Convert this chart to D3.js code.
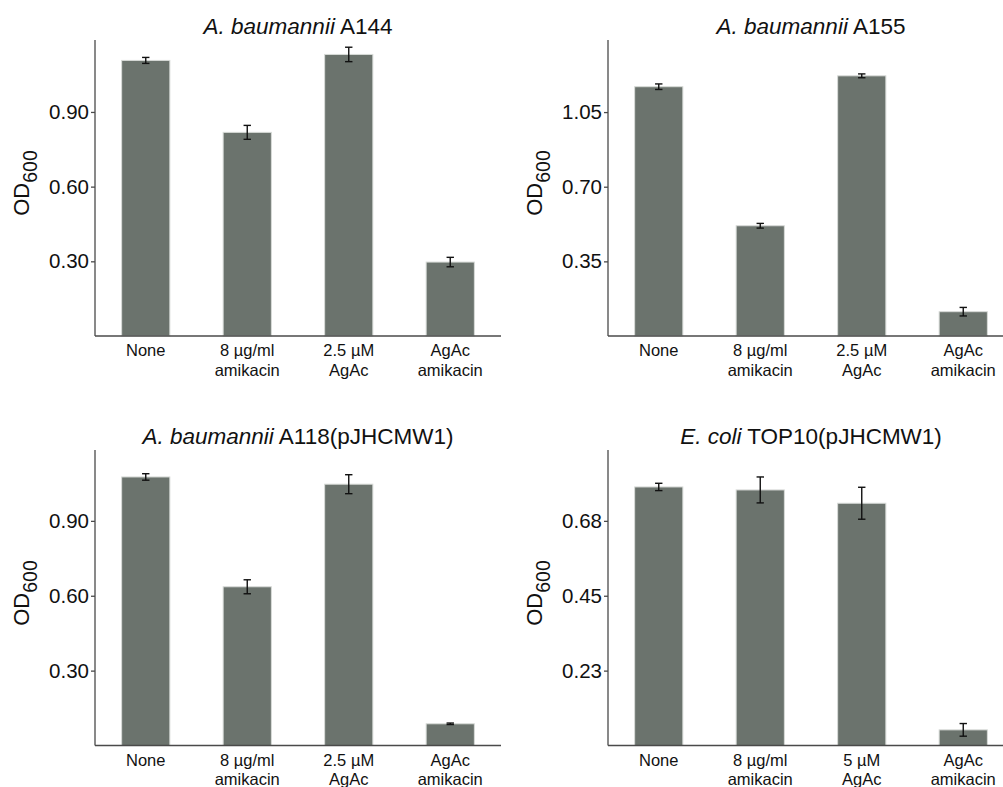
<!DOCTYPE html>
<html>
<head>
<meta charset="utf-8">
<script src="https://cdn.jsdelivr.net/npm/d3@7"></script>
<style>
  body { margin: 0; background: #fff; }
  svg { font-family: "Liberation Sans", Arial, sans-serif; }
</style>
</head>
<body>
<div id="chart"></div>
<script>
// conditions on the x axis (two lines each)
const conditionsAg25 = [["None"], ["8 µg/ml", "amikacin"], ["2.5 µM", "AgAc"], ["AgAc", "amikacin"]];
const conditionsAg5 = [["None"], ["8 µg/ml", "amikacin"], ["5 µM", "AgAc"], ["AgAc", "amikacin"]];

// OD600 means and error (half-length) per strain
const a144Values = [1.107, 0.818, 1.131, 0.297];
const a144Errors = [0.012, 0.028, 0.029, 0.019];
const a155Values = [1.169, 0.517, 1.220, 0.114];
const a155Errors = [0.013, 0.011, 0.009, 0.020];
const a118Values = [1.076, 0.636, 1.047, 0.087];
const a118Errors = [0.013, 0.028, 0.038, 0.003];
const top10Values = [0.777, 0.768, 0.728, 0.047];
const top10Errors = [0.011, 0.039, 0.048, 0.019];

// y tick values and their printed labels
const ticksA144 = [0.30, 0.60, 0.90];
const ticksA155 = [0.35, 0.70, 1.05];
const ticksA118 = [0.30, 0.60, 0.90];
const ticksTop10 = [0.225, 0.45, 0.675];
const tickLabelsTop10 = ["0.23", "0.45", "0.68"];

const panels = [
  { italic: "A. baumannii", rest: " A144", labels: conditionsAg25, values: a144Values, errors: a144Errors,
    ticks: ticksA144, yMax: 1.189, left: 95, top: 40, bottom: 336 },
  { italic: "A. baumannii", rest: " A155", labels: conditionsAg25, values: a155Values, errors: a155Errors,
    ticks: ticksA155, yMax: 1.388, left: 608, top: 40, bottom: 336 },
  { italic: "A. baumannii", rest: " A118(pJHCMW1)", labels: conditionsAg25, values: a118Values, errors: a118Errors,
    ticks: ticksA118, yMax: 1.184, left: 95, top: 450, bottom: 745.5 },
  { italic: "E. coli", rest: " TOP10(pJHCMW1)", labels: conditionsAg5, values: top10Values, errors: top10Errors,
    ticks: ticksTop10, tickLabels: tickLabelsTop10, yMax: 0.888, left: 608, top: 450, bottom: 745.5 },
];

const W = 1003, H = 787;
const plotWidth = 406;
const barColor = "#6b736d";
const axisColor = "#4a4a4a";

const svg = d3.select("#chart").append("svg")
  .attr("width", W)
  .attr("height", H);

panels.forEach((p) => {
  const g = svg.append("g");
  const idx = p.values.map((d, i) => i);

  const x = d3.scaleBand()
    .domain(idx)
    .range([p.left, p.left + plotWidth])
    .paddingInner(0.525)
    .paddingOuter(0.2625);

  const y = d3.scaleLinear()
    .domain([0, p.yMax])
    .range([p.bottom, p.top]);

  // bars
  g.selectAll("rect.bar")
    .data(p.values)
    .enter()
    .append("rect")
    .attr("class", "bar")
    .attr("x", (d, i) => x(i))
    .attr("y", (d) => y(d))
    .attr("width", x.bandwidth())
    .attr("height", (d) => y(0) - y(d))
    .style("fill", barColor)
    .style("stroke", "#d8dbd8")
    .style("stroke-width", 1);

  // error bars
  const eb = g.selectAll("g.err")
    .data(p.values.map((v, i) => ({ v: v, e: p.errors[i], i: i })))
    .enter()
    .append("g")
    .attr("class", "err")
    .style("stroke", "#111")
    .style("stroke-width", 1.4);

  const cx = (d) => x(d.i) + x.bandwidth() / 2;
  eb.append("line")
    .attr("x1", cx).attr("x2", cx)
    .attr("y1", (d) => y(d.v + d.e)).attr("y2", (d) => y(d.v - d.e));
  eb.append("line")
    .attr("x1", (d) => cx(d) - 3.7).attr("x2", (d) => cx(d) + 3.7)
    .attr("y1", (d) => y(d.v + d.e)).attr("y2", (d) => y(d.v + d.e));
  eb.append("line")
    .attr("x1", (d) => cx(d) - 3.7).attr("x2", (d) => cx(d) + 3.7)
    .attr("y1", (d) => y(d.v - d.e)).attr("y2", (d) => y(d.v - d.e));

  // y axis
  const fmt = d3.format(".2f");
  const yAxis = g.append("g")
    .attr("transform", `translate(${p.left},0)`)
    .call(d3.axisLeft(y)
      .tickValues(p.ticks)
      .tickSize(4)
      .tickPadding(2)
      .tickSizeOuter(0)
      .tickFormat((d, i) => p.tickLabels ? p.tickLabels[i] : fmt(d)));
  yAxis.select(".domain").attr("d", `M0,${p.bottom}V${p.top}`);
  yAxis.selectAll("line, .domain").style("stroke", axisColor).style("stroke-width", 1.3);
  yAxis.selectAll("text")
    .style("font-size", "20.5px")
    .style("fill", "#111");

  // x axis line
  g.append("line")
    .attr("x1", p.left).attr("x2", p.left + plotWidth)
    .attr("y1", y(0)).attr("y2", y(0))
    .style("stroke", axisColor)
    .style("stroke-width", 1.3);

  // x labels
  const xl = g.selectAll("text.xlab")
    .data(p.labels)
    .enter()
    .append("text")
    .attr("class", "xlab")
    .attr("x", (d, i) => x(i) + x.bandwidth() / 2)
    .attr("y", y(0) + 20)
    .style("text-anchor", "middle")
    .style("font-size", "16.5px")
    .style("fill", "#111");
  xl.selectAll("tspan")
    .data((d) => d)
    .enter()
    .append("tspan")
    .attr("x", function () { return d3.select(this.parentNode).attr("x"); })
    .attr("dy", (d, i) => (i === 0 ? 0 : 19.5))
    .text((d) => d);

  // y label OD600
  const yl = g.append("text")
    .attr("transform", `translate(${p.left - 66},${p.top + 143}) rotate(-90)`)
    .style("text-anchor", "middle")
    .style("font-size", "22px")
    .style("fill", "#111");
  yl.append("tspan").text("OD");
  yl.append("tspan").attr("dy", 8).style("font-size", "19.5px").text("600");

  // title
  const t = g.append("text")
    .attr("x", p.left + plotWidth / 2)
    .attr("y", p.top - 6)
    .style("text-anchor", "middle")
    .style("font-size", "22.5px")
    .style("fill", "#111");
  t.append("tspan").style("font-style", "italic").text(p.italic);
  t.append("tspan").text(p.rest);
});
</script>
</body>
</html>
